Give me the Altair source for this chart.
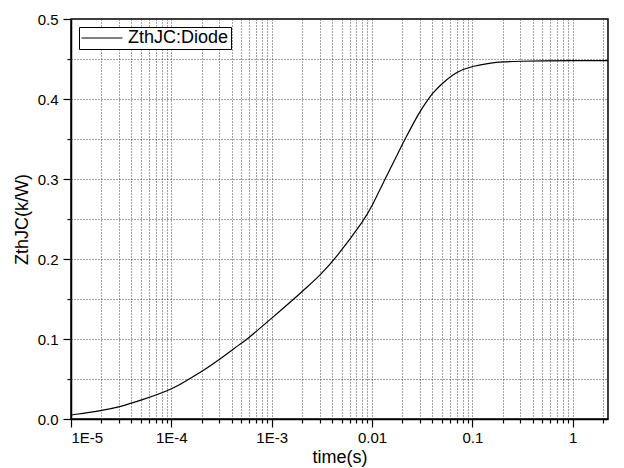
import altair as alt
import pandas as pd

# Curve data
time_s = [1e-5, 2e-5, 3e-5, 5e-5, 1e-4, 1.5e-4, 2e-4, 3e-4, 5e-4, 5.74e-4,
          1e-3, 1.67e-3, 2.14e-3, 3e-3, 4.36e-3, 8.5e-3, 1e-2, 1.35e-2, 2e-2,
          2.14e-2, 3e-2, 3.65e-2, 4e-2, 5e-2, 7e-2, 0.1, 0.15, 0.2, 0.3,
          0.5, 1.0, 2.25]
zth = [0.005, 0.0104, 0.0148, 0.0235, 0.0365, 0.050, 0.059, 0.074, 0.095, 0.100,
       0.126, 0.150, 0.1625, 0.179, 0.201, 0.250, 0.266, 0.300, 0.343,
       0.350, 0.385, 0.400, 0.407, 0.4195, 0.4345, 0.441, 0.445, 0.4465, 0.4472,
       0.4477, 0.448, 0.448]
series_name = "ZthJC:Diode"

# Axis ticks
x_ticks = [m * 10.0 ** e for e in range(-5, 0) for m in range(1, 10)] + [1.0, 2.0]
x_labels = ["1E-5", "1E-4", "1E-3", "0.01", "0.1", "1"]
y_ticks = [0.0, 0.05, 0.1, 0.15, 0.2, 0.25, 0.3, 0.35, 0.4, 0.45, 0.5]

df = pd.DataFrame({"t": time_s, "z": zth, "series": [series_name] * len(time_s)})

font = "Liberation Sans"
is_decade = "abs(log(datum.value)/LN10 - round(log(datum.value)/LN10)) < 1e-6"
is_tenth = "abs(datum.value*10 - round(datum.value*10)) < 1e-6"
label_arr = "[" + ",".join("'%s'" % s for s in x_labels) + "]"

x_axis = alt.Axis(
    values=x_ticks,
    labelExpr=f"({is_decade}) ? {label_arr}[round(log(datum.value)/LN10)+5] : ''",
    tickSize={"condition": {"test": is_decade, "value": 8}, "value": 4},
    labelPadding=3,
    title="time(s)",
    titlePadding=3,
    grid=True,
)
y_axis = alt.Axis(
    values=y_ticks,
    labelExpr=f"({is_tenth}) ? format(datum.value, '.1f') : ''",
    tickSize={"condition": {"test": is_tenth, "value": 8}, "value": 4},
    labelPadding=5,
    title="ZthJC(k/W)",
    titlePadding=6,
    grid=True,
)

chart = alt.Chart(df).mark_line(strokeWidth=1.2, interpolate="basis").encode(
    x=alt.X("t:Q", scale=alt.Scale(type="log", domain=[1e-5, 2.25], nice=False), axis=x_axis),
    y=alt.Y("z:Q", scale=alt.Scale(domain=[0, 0.5], nice=False), axis=y_axis),
    color=alt.Color("series:N", scale=alt.Scale(range=["#000000"]),
                    legend=alt.Legend(title=None, orient="none", legendX=8, legendY=8,
                                      symbolType="M-2.41,0H2.41", symbolSize=289,
                                      symbolOffset=12,
                                      symbolStrokeWidth=1, labelFontSize=18,
                                      labelFont=font, labelColor="#000",
                                      strokeColor="#000", fillColor="#fff",
                                      padding=2, cornerRadius=0, labelOffset=17)),
).properties(
    width=537, height=400,
    autosize=alt.AutoSizeParams(type="none"),
    padding={"left": 63, "top": 11, "right": 8, "bottom": 49},
).configure_view(
    stroke="#000", strokeWidth=1.5
).configure_axis(
    labelFont=font, titleFont=font, labelFontSize=15, titleFontSize=18,
    labelColor="#000", titleColor="#000", titleFontWeight="normal",
    domainColor="#000", domainWidth=1.5, tickColor="#000", tickWidth=1.2,
    gridColor="#333", gridDash=[1, 2], gridOpacity=0.9, gridWidth=1,
)

chart.save("out.html", embed_options={"renderer": "svg", "actions": False})
